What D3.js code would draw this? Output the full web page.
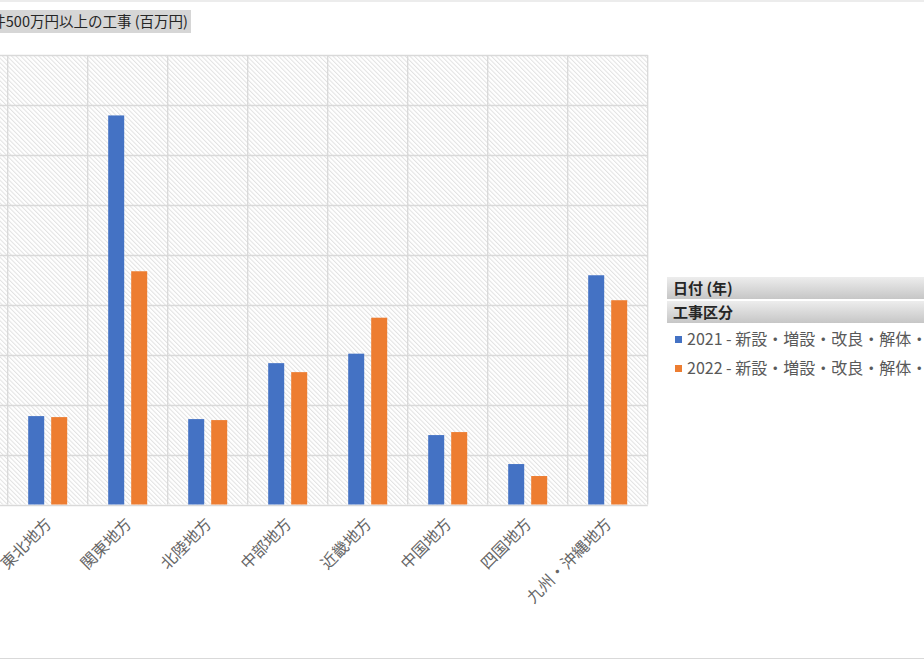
<!DOCTYPE html>
<html><head><meta charset="utf-8">
<script src="https://cdn.jsdelivr.net/npm/d3@7"></script>
<style>
html,body{margin:0;padding:0;background:#fff;overflow:hidden}
svg{display:block;font-family:"Noto Sans CJK JP","Noto Sans",sans-serif}
</style></head>
<body><svg id="c" width="924" height="660"></svg>
<script>
const categories = ["東北地方","関東地方","北陸地方","中部地方","近畿地方","中国地方","四国地方","九州・沖縄地方"];
const seriesNames = ["2021 - 新設・増設・改良・解体・除却","2022 - 新設・増設・改良・解体・除却"];
const values2021 = [177, 779, 171, 283, 302, 139, 81, 459];
const values2022 = [175, 467, 169, 265, 374, 145, 57, 409];
const yTicks = [0,100,200,300,400,500,600,700,800,900];
const colors = ["#4472C4","#ED7D31"];
const titleText = "1件500万円以上の工事 (百万円)";
const legendHeaders = ["日付 (年)","工事区分"];

const svg = d3.select("#c");
const defs = svg.append("defs");
const pat = defs.append("pattern").attr("id","hatch").attr("patternUnits","userSpaceOnUse")
  .attr("width",3.2).attr("height",3.2).attr("patternTransform","rotate(-45)");
pat.append("rect").attr("width",3.2).attr("height",3.2).attr("fill","#fff");
pat.append("line").attr("x1",0.5).attr("y1",0).attr("x2",0.5).attr("y2",3.2).attr("stroke","#e2e2e2").attr("stroke-width",1);
const grad = defs.append("linearGradient").attr("id","hdr").attr("x1",0).attr("y1",0).attr("x2",0).attr("y2",1);
grad.append("stop").attr("offset","0%").attr("stop-color","#ededed");
grad.append("stop").attr("offset","100%").attr("stop-color","#c6c6c6");

// frame
svg.append("line").attr("x1",0).attr("x2",924).attr("y1",1).attr("y2",1).attr("stroke","#d9d9d9");
svg.append("line").attr("x1",0).attr("x2",924).attr("y1",658.5).attr("y2",658.5).attr("stroke","#d9d9d9");

// title
const tg = svg.append("g");
tg.append("rect").attr("x",-10).attr("y",10).attr("width",201).attr("height",23).attr("fill","#d6d6d6");
tg.append("text").attr("x",188).attr("y",27).attr("text-anchor","end").attr("font-size",14.5).attr("fill","#262626").text(titleText);

const plotTop = 55, plotBottom = 504.5, plotLeft = 7.7, plotRight = 647.7;
const x0 = d3.scaleBand().domain(categories).range([plotLeft, plotRight]);
const y = d3.scaleLinear().domain([0,900]).range([plotBottom, plotTop]);

svg.append("rect").attr("x",-80).attr("y",plotTop).attr("width",plotRight+80).attr("height",plotBottom-plotTop).attr("fill","url(#hatch)");

// horizontal gridlines
svg.append("g").selectAll("line").data(yTicks).join("line")
  .attr("x1",-80).attr("x2",plotRight).attr("y1",d=>Math.round(y(d))+0.5).attr("y2",d=>Math.round(y(d))+0.5)
  .attr("stroke","#d9d9d9").attr("stroke-width",1.3);
// vertical dividers
const bounds = categories.map(c=>x0(c)).concat([plotRight]);
svg.append("g").selectAll("line").data(bounds).join("line")
  .attr("x1",d=>d).attr("x2",d=>d).attr("y1",plotTop).attr("y2",plotBottom)
  .attr("stroke","#d9d9d9").attr("stroke-width",1.3);

// bars
const x1 = d3.scaleBand().domain([0,1]).range([-19.5,19.5]).paddingInner(7/23);
const data = categories.map((c,i)=>({c, v:[values2021[i], values2022[i]]}));
const g = svg.append("g");
data.forEach(d=>{
  const cx = x0(d.c) + x0.bandwidth()/2;
  g.selectAll(null).data(d.v).join("rect")
    .attr("x",(v,j)=>cx + x1(j)).attr("width",x1.bandwidth())
    .attr("y",v=>y(v)).attr("height",v=>plotBottom - y(v))
    .attr("fill",(v,j)=>colors[j]);
});

// x labels
svg.append("g").selectAll("text").data(categories).join("text")
  .attr("transform",c=>`translate(${x0(c)+x0.bandwidth()/2+1},${521}) rotate(-45)`)
  .attr("text-anchor","end").attr("dy","0.35em").attr("font-size",16).attr("fill","#666")
  .text(c=>c);

// legend
const lg = svg.append("g");
legendHeaders.forEach((h,i)=>{
  const yy = 277 + i*24;
  lg.append("rect").attr("x",667).attr("y",yy).attr("width",260).attr("height",22).attr("fill","url(#hdr)");
  lg.append("text").attr("x",673).attr("y",yy+17).attr("font-size",15).attr("font-weight","bold").attr("fill","#262626").text(h);
});
seriesNames.forEach((s,i)=>{
  const yy = 339 + i*29;
  lg.append("rect").attr("x",675).attr("y",yy-3).attr("width",7).attr("height",7).attr("fill",colors[i]);
  lg.append("text").attr("x",687).attr("y",yy+6).attr("font-size",16).attr("fill","#595959").text(s);
});
</script></body></html>
